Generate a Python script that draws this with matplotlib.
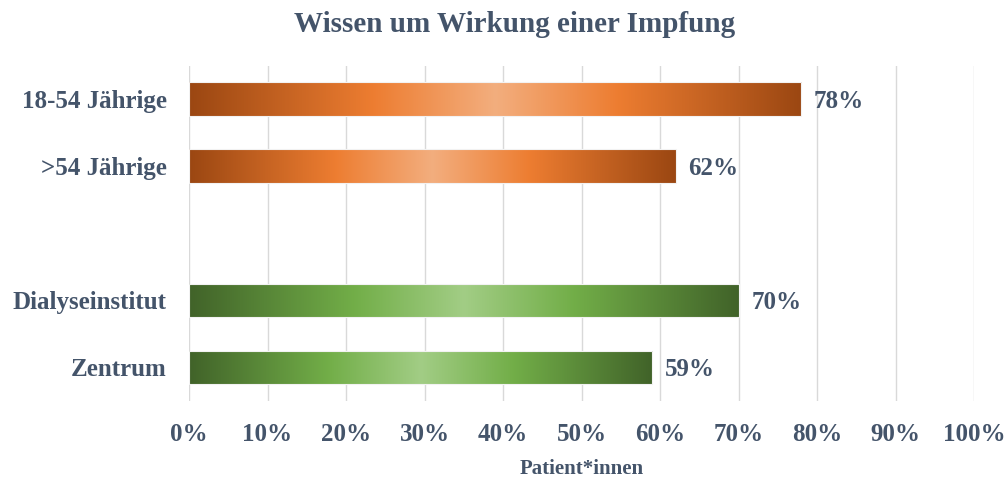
import numpy as np
import matplotlib.pyplot as plt
from matplotlib.colors import LinearSegmentedColormap

# Daten
kategorien = ["18-54 Jährige", ">54 Jährige", "", "Dialyseinstitut", "Zentrum"]
werte = [78, 62, None, 70, 59]
gruppe = ["alter", "alter", None, "ort", "ort"]
xticks = [0, 10, 20, 30, 40, 50, 60, 70, 80, 90, 100]

textfarbe = "#44546A"
plt.rcParams["font.family"] = ["Liberation Serif", "DejaVu Serif"]
plt.rcParams["font.weight"] = "bold"

# Farbverlauf: dunkel am Rand, hell in der Mitte
cmaps = {
    "alter": LinearSegmentedColormap.from_list(
        "orange", [(0, "#9B4712"), (0.3, "#ED7D31"), (0.5, "#F3AE7E"), (0.7, "#ED7D31"), (1, "#9B4712")]),
    "ort": LinearSegmentedColormap.from_list(
        "gruen", [(0, "#416329"), (0.3, "#72AE48"), (0.5, "#A2CD85"), (0.7, "#72AE48"), (1, "#416329")]),
}
gradient = np.linspace(0, 1, 256).reshape(1, -1)

fig = plt.figure(figsize=(10.08, 4.79), dpi=100)
ax = fig.add_axes([0.1875, 0.163, 0.779, 0.70])

y = np.arange(len(kategorien))
for i, (w, g) in enumerate(zip(werte, gruppe)):
    if w is None:
        continue
    bar = ax.barh(y[i], w, height=0.5, color="none", edgecolor="#F2F2F2", linewidth=0.8, zorder=3)[0]
    x0, y0 = bar.get_x(), bar.get_y()
    im = ax.imshow(gradient, cmap=cmaps[g], aspect="auto", zorder=2,
                   extent=[x0, x0 + bar.get_width(), y0 + bar.get_height(), y0])
    im.set_clip_path(bar)
    ax.text(w + 1.6, y[i] + 0.03, f"{w}%", va="center", ha="left", fontsize=18,
            color=textfarbe, fontweight="bold")

ax.set_xlim(0, 100)
ax.set_ylim(4.5, -0.5)
ax.set_yticks(y)
ax.set_yticklabels(kategorien, fontsize=18, color=textfarbe, fontweight="bold")
ax.set_xticks(xticks)
ax.set_xticklabels([f"{t}%" for t in xticks], fontsize=18, color=textfarbe, fontweight="bold")
ax.tick_params(length=0)
ax.tick_params(axis="y", pad=16)
ax.tick_params(axis="x", pad=16)
ax.grid(axis="x", color="#D9D9D9", linewidth=1, zorder=0)
ax.set_axisbelow(True)
for s in ax.spines.values():
    s.set_visible(False)

ax.set_xlabel("Patient*innen", fontsize=15, color=textfarbe, fontweight="bold", labelpad=9)
fig.suptitle("Wissen um Wirkung einer Impfung", fontsize=21, color=textfarbe,
             fontweight="bold", x=0.51, y=0.978)

fig.savefig("out.png", dpi=100)
